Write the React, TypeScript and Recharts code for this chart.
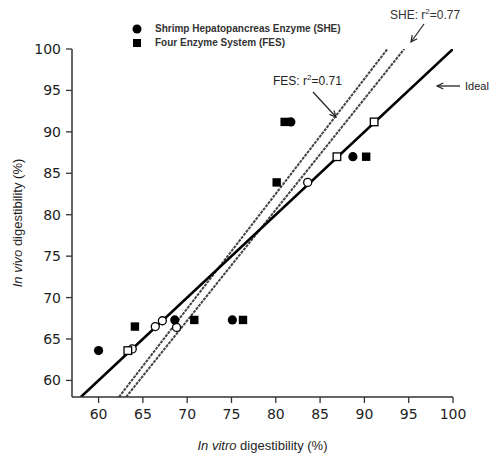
import React from 'react';
import { ComposedChart, Line, Scatter, XAxis, YAxis, Legend, Label } from 'recharts';

// ---- data ----
const xTicks = [60, 65, 70, 75, 80, 85, 90, 95, 100];
const yTicks = [60, 65, 70, 75, 80, 85, 90, 95, 100];

const sheX = [60.0, 68.6, 75.1, 81.7, 88.7];
const sheY = [63.6, 67.3, 67.3, 91.2, 87.0];

const fesX = [64.1, 70.8, 76.3, 80.1, 81.0, 90.2];
const fesY = [66.5, 67.3, 67.3, 83.9, 91.2, 87.0];

const openCircleX = [63.8, 66.4, 67.2, 83.6, 68.8];
const openCircleY = [63.8, 66.5, 67.2, 83.9, 66.4];

const openSquareX = [63.3, 86.9, 91.1];
const openSquareY = [63.6, 87.0, 91.2];

const idealX = [58, 100];
const idealY = [58, 100];
const fesLineX = [62.3, 92.6];
const fesLineY = [58, 100];
const sheLineX = [63.1, 94.5];
const sheLineY = [58, 100];

const SHE_NAME = 'Shrimp Hepatopancreas Enzyme (SHE)';
const FES_NAME = 'Four Enzyme System (FES)';
const LEGEND_ORDER = [SHE_NAME, FES_NAME];

const zip = (xs: number[], ys: number[]) => xs.map((x, i) => ({ x, y: ys[i] }));

const sheData = zip(sheX, sheY);
const fesData = zip(fesX, fesY);
const openCircleData = zip(openCircleX, openCircleY);
const openSquareData = zip(openSquareX, openSquareY);
const idealData = zip(idealX, idealY);
const fesLineData = zip(fesLineX, fesLineY);
const sheLineData = zip(sheLineX, sheLineY);

const FONT = '"Liberation Sans", Arial, sans-serif';
const TICK_FONT = '"DejaVu Sans", sans-serif';
const INK = '#1e1e1e';

const FilledCircle = (p: any) => <circle cx={p.cx} cy={p.cy} r={4.6} fill="#000" />;
const FilledSquare = (p: any) => <rect x={p.cx - 4.2} y={p.cy - 4.2} width={8.4} height={8.4} fill="#000" />;
const OpenCircle = (p: any) => (
  <circle cx={p.cx} cy={p.cy} r={4} fill="#fff" stroke="#000" strokeWidth={1.3} />
);
const OpenSquare = (p: any) => (
  <rect x={p.cx - 3.8} y={p.cy - 3.8} width={7.6} height={7.6} fill="#fff" stroke="#000" strokeWidth={1.3} />
);

const renderLegend = (props: any) => {
  const items = (props.payload || [])
    .filter((it: any) => LEGEND_ORDER.includes(it.value))
    .sort((a: any, b: any) => LEGEND_ORDER.indexOf(a.value) - LEGEND_ORDER.indexOf(b.value));
  return (
    <div style={{ fontFamily: FONT, fontSize: 10, fontWeight: 'bold', color: '#333', lineHeight: '14px' }}>
      {items.map((it: any) => (
        <div key={it.value} style={{ display: 'flex', alignItems: 'center', height: 14 }}>
          <svg width={14} height={14} style={{ marginRight: 11, display: 'block' }}>
            {it.value === SHE_NAME ? (
              <circle cx={7} cy={7} r={4.5} fill="#000" />
            ) : (
              <rect x={3} y={3} width={8} height={8} fill="#000" />
            )}
          </svg>
          <span>{it.value}</span>
        </div>
      ))}
    </div>
  );
};

const XTitle = (props: any) => {
  const vb = props.viewBox || {};
  const cx = vb.x + vb.width / 2;
  return (
    <text x={cx} y={450} textAnchor="middle" fontFamily={FONT} fontSize={13} fill={INK}>
      <tspan fontStyle="italic">In vitro</tspan> digestibility (%)
    </text>
  );
};

const YTitle = (props: any) => {
  const vb = props.viewBox || {};
  const cy = vb.y + vb.height / 2;
  const cx = 17;
  return (
    <text
      x={cx}
      y={cy}
      textAnchor="middle"
      dominantBaseline="central"
      transform={`rotate(-90 ${cx} ${cy})`}
      fontFamily={FONT}
      fontSize={13}
      fill={INK}
    >
      <tspan fontStyle="italic">In vivo</tspan> digestibility (%)
    </text>
  );
};

const ArrowHead = ({ x, y, angle }: { x: number; y: number; angle: number }) => {
  const a = (angle * Math.PI) / 180;
  const len = 7;
  const spread = 0.45;
  const p1 = [x - len * Math.cos(a - spread), y - len * Math.sin(a - spread)];
  const p2 = [x - len * Math.cos(a + spread), y - len * Math.sin(a + spread)];
  return (
    <polyline
      points={`${p1[0]},${p1[1]} ${x},${y} ${p2[0]},${p2[1]}`}
      fill="none"
      stroke="#222"
      strokeWidth={1.2}
    />
  );
};

const Annotations = () => (
  <svg
    width={499}
    height={454}
    style={{ position: 'absolute', left: 0, top: 0, pointerEvents: 'none' }}
  >
    <text x={390} y={19} fontFamily={FONT} fontSize={12} fill="#333">
      SHE: r<tspan dy={-5} fontSize={8}>2</tspan>
      <tspan dy={5}>=0.77</tspan>
    </text>
    <line x1={424} y1={24} x2={411} y2={42} stroke="#222" strokeWidth={1.2} />
    <ArrowHead x={411} y={42} angle={(Math.atan2(18, -13) * 180) / Math.PI} />

    <text x={273} y={85} fontFamily={FONT} fontSize={12} fill="#222">
      FES: r<tspan dy={-5} fontSize={8}>2</tspan>
      <tspan dy={5}>=0.71</tspan>
    </text>
    <line x1={313} y1={92} x2={336} y2={117} stroke="#222" strokeWidth={1.2} />
    <ArrowHead x={336} y={117} angle={(Math.atan2(25, 23) * 180) / Math.PI} />

    <line x1={437} y1={86} x2={460} y2={86} stroke="#222" strokeWidth={1.3} />
    <ArrowHead x={437} y={86} angle={180} />
    <text x={465} y={90} fontFamily={FONT} fontSize={11} fill="#222">
      Ideal
    </text>
  </svg>
);

export default function App() {
  return (
    <div style={{ position: 'absolute', left: 0, top: 0, width: 499, height: 454, background: '#fff' }}>
      <ComposedChart
        width={499}
        height={454}
        margin={{ top: 49, right: 46, bottom: 27, left: 32 }}
      >
        <XAxis
          dataKey="x"
          type="number"
          domain={[57, 100]}
          ticks={xTicks}
          allowDataOverflow
          tickSize={6}
          tickMargin={6}
          height={30}
          stroke={INK}
          tick={{ fill: INK, fontFamily: TICK_FONT, fontSize: 14 }}
          axisLine={{ stroke: '#333', strokeWidth: 1.5 }}
          tickLine={{ stroke: '#333', strokeWidth: 1.3 }}
        >
          <Label content={<XTitle />} />
        </XAxis>
        <YAxis
          dataKey="y"
          type="number"
          domain={[58, 100]}
          ticks={yTicks}
          allowDataOverflow
          tickSize={6}
          tickMargin={5}
          width={40}
          stroke={INK}
          tick={{ fill: INK, fontFamily: TICK_FONT, fontSize: 14 }}
          axisLine={{ stroke: '#333', strokeWidth: 1.5 }}
          tickLine={{ stroke: '#333', strokeWidth: 1.3 }}
        >
          <Label content={<YTitle />} />
        </YAxis>
        <Legend
          content={renderLegend}
          layout="vertical"
          align="center"
          verticalAlign="middle"
          wrapperStyle={{ left: 130, top: 22, width: 260, height: 30 }}
        />
        <Line
          data={fesLineData}
          dataKey="y"
          stroke="#444"
          strokeWidth={2}
          strokeDasharray="3 1"
          dot={false}
          legendType="none"
          isAnimationActive={false}
        />
        <Line
          data={sheLineData}
          dataKey="y"
          stroke="#444"
          strokeWidth={2}
          strokeDasharray="3 1"
          dot={false}
          legendType="none"
          isAnimationActive={false}
        />
        <Line
          data={idealData}
          dataKey="y"
          stroke="#000"
          strokeWidth={2.6}
          dot={false}
          legendType="none"
          isAnimationActive={false}
        />
        <Scatter data={openCircleData} dataKey="y" shape={OpenCircle} legendType="none" isAnimationActive={false} />
        <Scatter data={openSquareData} dataKey="y" shape={OpenSquare} legendType="none" isAnimationActive={false} />
        <Scatter name={SHE_NAME} data={sheData} dataKey="y" shape={FilledCircle} legendType="circle" isAnimationActive={false} />
        <Scatter name={FES_NAME} data={fesData} dataKey="y" shape={FilledSquare} legendType="square" isAnimationActive={false} />
      </ComposedChart>
      <Annotations />
    </div>
  );
}
